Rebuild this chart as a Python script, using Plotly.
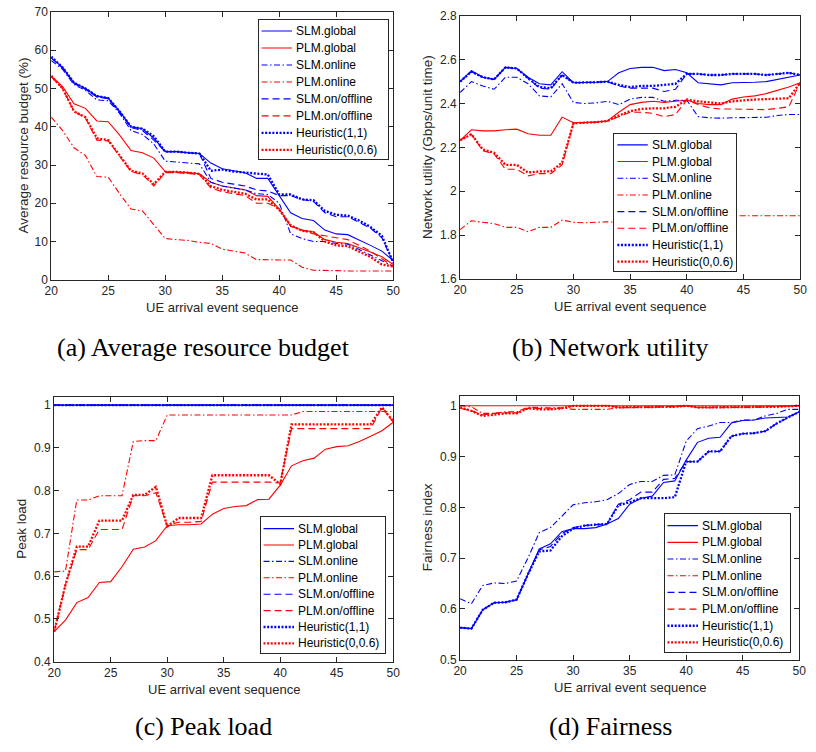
import plotly.graph_objects as go

# UE arrival events on the x axis
events = list(range(20, 51))

series_names = ["SLM.global", "PLM.global", "SLM.online", "PLM.online",
                "SLM.on/offline", "PLM.on/offline", "Heuristic(1,1)", "Heuristic(0,0.6)"]

# (a) Average resource budget (%)
budget_slm_global = [58.0, 55.5, 51.5, 50.0, 48.0, 47.5, 44.0, 40.0, 39.5, 37.0, 33.5, 33.5, 33.2, 33.0, 30.5, 29.0,
                     28.5, 28.0, 26.5, 26.5, 22.0, 17.5, 16.0, 15.5, 13.0, 12.0, 11.8, 10.5, 9.0, 7.5, 5.0]
budget_plm_global = [53.2, 50.5, 46.0, 44.8, 41.5, 41.3, 37.8, 33.8, 33.2, 31.8, 28.3, 28.2, 28.0, 27.7, 25.5, 24.5,
                     24.0, 23.5, 22.0, 21.8, 18.5, 14.0, 13.0, 12.5, 10.5, 9.8, 9.5, 8.5, 7.3, 6.0, 4.0]
budget_slm_online = [57.3, 55.0, 51.0, 49.5, 47.0, 46.8, 43.5, 39.0, 38.0, 35.5, 31.0, 30.8, 30.5, 30.3, 25.5, 24.5,
                     24.0, 23.5, 22.5, 22.3, 20.0, 12.0, 10.8, 10.0, 10.0, 9.5, 9.3, 8.0, 6.5, 5.0, 3.5]
budget_plm_online = [42.5, 39.0, 34.5, 32.5, 27.0, 26.8, 22.5, 18.5, 18.0, 14.5, 10.8, 10.5, 10.3, 9.8, 9.5, 8.0,
                     7.5, 7.0, 5.3, 5.2, 5.2, 5.2, 3.3, 2.5, 2.5, 2.4, 2.3, 2.3, 2.3, 2.3, 2.3]
budget_slm_onoff = [58.0, 55.3, 51.3, 49.8, 47.8, 47.3, 43.8, 39.8, 39.0, 36.5, 33.5, 33.5, 33.2, 33.0, 26.5, 25.5,
                    25.0, 24.5, 23.5, 23.2, 22.0, 22.0, 21.0, 20.5, 17.5, 16.5, 16.5, 15.0, 13.5, 11.0, 4.5]
budget_plm_onoff = [53.0, 50.0, 44.0, 42.3, 36.5, 36.3, 32.3, 28.3, 27.5, 24.5, 28.0, 28.0, 27.8, 27.5, 24.0, 23.0,
                    22.5, 22.0, 20.0, 20.0, 18.5, 14.0, 13.0, 12.0, 11.5, 11.0, 10.5, 9.0, 7.5, 5.5, 3.5]
budget_heur_11 = [58.3, 55.5, 51.5, 50.0, 48.0, 47.5, 44.0, 40.0, 39.5, 37.5, 33.5, 33.5, 33.2, 33.0, 28.5, 28.8,
                  28.3, 28.0, 27.7, 27.5, 22.3, 22.3, 21.0, 20.8, 18.0, 17.0, 16.8, 15.5, 13.8, 11.5, 4.5]
budget_heur_006 = [53.3, 50.0, 44.0, 42.5, 37.0, 36.5, 32.5, 28.5, 27.8, 25.0, 28.2, 28.2, 28.0, 27.7, 24.5, 23.5,
                   23.0, 22.5, 21.0, 21.0, 18.3, 14.3, 12.8, 12.5, 10.0, 9.0, 8.8, 7.5, 6.0, 4.0, 3.5]

# (b) Network utility (Gbps/unit time)
util_slm_global = [2.50, 2.55, 2.52, 2.51, 2.565, 2.56, 2.52, 2.49, 2.485, 2.545, 2.495, 2.495, 2.497, 2.50, 2.54,
                   2.56, 2.565, 2.565, 2.55, 2.555, 2.54, 2.495, 2.49, 2.485, 2.495, 2.495, 2.497, 2.50, 2.51, 2.52, 2.53]
util_plm_global = [2.232, 2.28, 2.275, 2.275, 2.28, 2.283, 2.262, 2.255, 2.255, 2.338, 2.312, 2.312, 2.315, 2.32, 2.36,
                   2.395, 2.405, 2.41, 2.405, 2.41, 2.415, 2.40, 2.395, 2.395, 2.42, 2.43, 2.435, 2.445, 2.46, 2.475, 2.495]
util_slm_online = [2.45, 2.50, 2.48, 2.465, 2.52, 2.52, 2.49, 2.435, 2.43, 2.49, 2.405, 2.40, 2.403, 2.41, 2.395,
                   2.42, 2.428, 2.428, 2.41, 2.415, 2.415, 2.34, 2.335, 2.333, 2.335, 2.335, 2.335, 2.337, 2.345, 2.35, 2.35]
util_plm_online = [1.825, 1.865, 1.858, 1.852, 1.835, 1.835, 1.815, 1.835, 1.835, 1.868, 1.858, 1.856, 1.858, 1.86,
                   1.858, 1.865, 1.87, 1.872, 1.875, 1.875, 1.88, 1.885, 1.887, 1.888, 1.888, 1.888, 1.888, 1.888,
                   1.888, 1.888, 1.888]
util_slm_onoff = [2.50, 2.545, 2.52, 2.51, 2.565, 2.56, 2.515, 2.47, 2.465, 2.53, 2.495, 2.495, 2.497, 2.50, 2.48,
                  2.47, 2.47, 2.47, 2.455, 2.465, 2.535, 2.535, 2.53, 2.53, 2.535, 2.535, 2.535, 2.53, 2.535, 2.54, 2.53]
util_plm_onoff = [2.232, 2.26, 2.185, 2.17, 2.10, 2.10, 2.07, 2.08, 2.08, 2.12, 2.31, 2.312, 2.315, 2.32, 2.34,
                  2.36, 2.36, 2.355, 2.34, 2.35, 2.415, 2.395, 2.38, 2.375, 2.375, 2.375, 2.372, 2.372, 2.378, 2.385, 2.495]
util_heur_11 = [2.50, 2.545, 2.52, 2.51, 2.565, 2.56, 2.515, 2.475, 2.47, 2.53, 2.495, 2.495, 2.497, 2.50, 2.485,
                2.475, 2.48, 2.48, 2.485, 2.49, 2.535, 2.535, 2.53, 2.53, 2.535, 2.535, 2.535, 2.53, 2.535, 2.54, 2.53]
util_heur_006 = [2.232, 2.26, 2.19, 2.175, 2.12, 2.12, 2.085, 2.09, 2.09, 2.13, 2.31, 2.312, 2.315, 2.32, 2.345,
                 2.365, 2.375, 2.378, 2.378, 2.385, 2.418, 2.41, 2.405, 2.40, 2.41, 2.415, 2.418, 2.42, 2.422, 2.424, 2.495]

# (c) Peak load
peak_slm_global = [1.0, 1.0, 1.0, 1.0, 1.0, 1.0, 1.0, 1.0, 1.0, 1.0, 1.0, 1.0, 1.0, 1.0, 1.0, 1.0,
                   1.0, 1.0, 1.0, 1.0, 1.0, 1.0, 1.0, 1.0, 1.0, 1.0, 1.0, 1.0, 1.0, 1.0, 1.0]
peak_plm_global = [0.47, 0.497, 0.538, 0.55, 0.585, 0.587, 0.622, 0.663, 0.668, 0.683, 0.718, 0.72, 0.72, 0.722,
                   0.745, 0.758, 0.763, 0.765, 0.779, 0.78, 0.813, 0.858, 0.87, 0.876, 0.897, 0.903, 0.905, 0.915,
                   0.927, 0.94, 0.96]
peak_slm_online = [1.0, 1.0, 1.0, 1.0, 1.0, 1.0, 1.0, 1.0, 1.0, 1.0, 1.0, 1.0, 1.0, 1.0, 1.0, 1.0,
                   1.0, 1.0, 1.0, 1.0, 1.0, 1.0, 1.0, 1.0, 1.0, 1.0, 1.0, 1.0, 1.0, 1.0, 1.0]
peak_plm_online = [0.61, 0.612, 0.778, 0.778, 0.788, 0.788, 0.788, 0.915, 0.917, 0.917, 0.977, 0.977, 0.977, 0.977,
                   0.977, 0.977, 0.977, 0.977, 0.977, 0.977, 0.977, 0.977, 0.985, 0.985, 0.985, 0.985, 0.985, 0.985,
                   0.985, 0.985, 0.985]
peak_slm_onoff = [1.0, 1.0, 1.0, 1.0, 1.0, 1.0, 1.0, 1.0, 1.0, 1.0, 1.0, 1.0, 1.0, 1.0, 1.0, 1.0,
                  1.0, 1.0, 1.0, 1.0, 1.0, 1.0, 1.0, 1.0, 1.0, 1.0, 1.0, 1.0, 1.0, 1.0, 1.0]
peak_plm_onoff = [0.47, 0.58, 0.662, 0.662, 0.709, 0.709, 0.709, 0.788, 0.788, 0.795, 0.718, 0.726, 0.726, 0.728,
                  0.82, 0.82, 0.82, 0.82, 0.82, 0.82, 0.818, 0.945, 0.945, 0.945, 0.945, 0.945, 0.945, 0.945,
                  0.945, 0.995, 0.96]
peak_heur_11 = [1.0, 1.0, 1.0, 1.0, 1.0, 1.0, 1.0, 1.0, 1.0, 1.0, 1.0, 1.0, 1.0, 1.0, 1.0, 1.0,
                1.0, 1.0, 1.0, 1.0, 1.0, 1.0, 1.0, 1.0, 1.0, 1.0, 1.0, 1.0, 1.0, 1.0, 1.0]
peak_heur_006 = [0.47, 0.58, 0.669, 0.669, 0.73, 0.73, 0.73, 0.79, 0.79, 0.809, 0.716, 0.736, 0.736, 0.736,
                 0.836, 0.836, 0.836, 0.836, 0.836, 0.836, 0.815, 0.955, 0.955, 0.955, 0.955, 0.955, 0.955, 0.955,
                 0.955, 0.995, 0.962]

# (d) Fairness index
fair_slm_global = [0.563, 0.561, 0.598, 0.612, 0.613, 0.618, 0.668, 0.718, 0.728, 0.752, 0.758, 0.758, 0.76, 0.767,
                   0.778, 0.806, 0.818, 0.822, 0.849, 0.852, 0.893, 0.928, 0.936, 0.938, 0.966, 0.971, 0.972, 0.976,
                   0.977, 0.978, 0.988]
fair_plm_global = [1.0, 1.0, 1.0, 1.0, 1.0, 1.0, 1.0, 1.0, 1.0, 1.0, 1.0, 1.0, 1.0, 1.0, 1.0, 1.0,
                   1.0, 1.0, 1.0, 1.0, 1.0, 1.0, 1.0, 1.0, 1.0, 1.0, 1.0, 1.0, 1.0, 1.0, 1.0]
fair_slm_online = [0.62, 0.61, 0.646, 0.651, 0.65, 0.655, 0.70, 0.75, 0.76, 0.782, 0.805, 0.809, 0.811, 0.815,
                   0.827, 0.845, 0.851, 0.851, 0.863, 0.864, 0.93, 0.955, 0.96, 0.967, 0.967, 0.972, 0.972, 0.98,
                   0.985, 0.993, 0.993]
fair_plm_online = [1.0, 0.998, 0.985, 0.985, 0.988, 0.988, 0.997, 0.996, 0.996, 0.996, 0.993, 0.993, 0.993, 0.993,
                   0.996, 0.996, 0.996, 0.997, 0.998, 0.998, 1.0, 0.996, 0.996, 0.996, 0.996, 0.996, 0.997, 0.998,
                   0.999, 1.0, 1.0]
fair_slm_onoff = [0.563, 0.561, 0.598, 0.612, 0.613, 0.618, 0.668, 0.716, 0.723, 0.748, 0.76, 0.764, 0.766, 0.767,
                  0.806, 0.815, 0.83, 0.83, 0.855, 0.857, 0.89, 0.89, 0.91, 0.91, 0.94, 0.945, 0.946, 0.95,
                  0.965, 0.977, 0.988]
fair_plm_onoff = [0.995, 0.99, 0.982, 0.985, 0.986, 0.986, 0.995, 0.994, 0.994, 0.995, 1.0, 1.0, 1.0, 1.0,
                  0.997, 0.997, 0.997, 0.998, 0.998, 0.999, 1.0, 0.997, 0.997, 0.997, 0.997, 0.997, 0.998, 0.998,
                  0.999, 1.0, 1.0]
fair_heur_11 = [0.563, 0.561, 0.598, 0.612, 0.613, 0.618, 0.668, 0.713, 0.715, 0.743, 0.758, 0.764, 0.766, 0.767,
                0.804, 0.81, 0.818, 0.818, 0.818, 0.82, 0.89, 0.89, 0.91, 0.91, 0.94, 0.945, 0.946, 0.95,
                0.965, 0.977, 0.988]
fair_heur_006 = [0.997, 0.99, 0.98, 0.983, 0.985, 0.985, 0.995, 0.993, 0.993, 0.995, 1.0, 1.0, 1.0, 1.0,
                 0.997, 0.997, 0.997, 0.997, 0.997, 0.998, 1.0, 0.997, 0.997, 0.997, 0.997, 0.997, 0.997, 0.998,
                 0.998, 0.999, 1.0]

# line look for each of the eight methods (same order as series_names)
BLUE, RED = "#0000FF", "#FF0000"
DASHDOT = "6px,2.5px,1.5px,2.5px"
DASH = "7px,4px"
DOT = "2px,1.6px"
styles = [
    dict(color=BLUE, width=1.1, dash="solid"),
    dict(color=RED, width=1.1, dash="solid"),
    dict(color=BLUE, width=1.1, dash=DASHDOT),
    dict(color=RED, width=1.1, dash=DASHDOT),
    dict(color=BLUE, width=1.1, dash=DASH),
    dict(color=RED, width=1.1, dash=DASH),
    dict(color=BLUE, width=2.3, dash=DOT),
    dict(color=RED, width=2.3, dash=DOT),
]

# each panel: data, y scale, pixel frame (left, right / top, bottom) and key box (left, top, right, bottom)
panels = [
    dict(series=[budget_slm_global, budget_plm_global, budget_slm_online, budget_plm_online,
                 budget_slm_onoff, budget_plm_onoff, budget_heur_11, budget_heur_006],
         yrange=[0, 70], dtick=10, ytitle="Average resource budget (%)",
         xdom=[45, 393], ydom=[5, 278], keybox=(256, 13, 388, 155),
         caption="(a) Average resource budget", ytitle_x=17),
    dict(series=[util_slm_global, util_plm_global, util_slm_online, util_plm_online,
                 util_slm_onoff, util_plm_onoff, util_heur_11, util_heur_006],
         yrange=[1.6, 2.8], dtick=0.2, ytitle="Network utility (Gbps/unit time)",
         xdom=[461, 807], ydom=[9, 277], keybox=(618, 129, 742, 269),
         caption="(b) Network utility", ytitle_x=428),
    dict(series=[peak_slm_global, peak_plm_global, peak_slm_online, peak_plm_online,
                 peak_slm_onoff, peak_plm_onoff, peak_heur_11, peak_heur_006],
         yrange=[0.4, 1.02], dtick=0.1, ytitle="Peak load",
         xdom=[48, 393], ydom=[397, 667], keybox=(258, 520, 385, 658),
         caption="(c) Peak load", ytitle_x=14),
    dict(series=[fair_slm_global, fair_plm_global, fair_slm_online, fair_plm_online,
                 fair_slm_onoff, fair_plm_onoff, fair_heur_11, fair_heur_006],
         yrange=[0.5, 1.02], dtick=0.1, ytitle="Fairness index",
         xdom=[461, 806], ydom=[396, 665], keybox=(669, 517, 797, 657),
         caption="(d) Fairness", ytitle_x=428),
]

W, H = 816, 752
AXIS_COLOR = "#262626"
SANS = "Liberation Sans, Arial, sans-serif"
SERIF = "Liberation Serif, Times New Roman, serif"


def px_x(v):
    return v / W


def px_y(v):
    return 1 - v / H


fig = go.Figure()
layout = dict(
    width=W, height=H,
    margin=dict(l=0, r=0, t=0, b=0),
    paper_bgcolor="white", plot_bgcolor="white",
    font=dict(family=SANS, size=12, color=AXIS_COLOR),
    showlegend=False,
    annotations=[],
)

# data panels
for i, p in enumerate(panels):
    k = "" if i == 0 else str(i + 1)
    for name, vals, st in zip(series_names, p["series"], styles):
        fig.add_trace(go.Scatter(
            x=events, y=vals, name=name, mode="lines",
            line=dict(color=st["color"], width=st["width"], dash=st["dash"]),
            xaxis="x" + k, yaxis="y" + k,
        ))

    x0, x1 = p["xdom"]
    top, bottom = p["ydom"]
    common = dict(showline=True, linecolor=AXIS_COLOR, linewidth=1, mirror="allticks",
                  ticks="inside", ticklen=5, tickcolor=AXIS_COLOR, showgrid=False,
                  zeroline=False, tickfont=dict(family=SANS, size=12, color=AXIS_COLOR))
    layout["xaxis" + k] = dict(domain=[px_x(x0), px_x(x1)], anchor="y" + k,
                               range=[20, 50], tick0=20, dtick=5, **common)
    layout["yaxis" + k] = dict(domain=[px_y(bottom), px_y(top)], anchor="x" + k,
                               range=p["yrange"], tick0=p["yrange"][0], dtick=p["dtick"], **common)

    layout["annotations"].append(dict(
        text="UE arrival event sequence", xref="paper", yref="paper",
        x=px_x((x0 + x1) / 2), y=px_y(bottom + 28), xanchor="center", yanchor="middle",
        showarrow=False, font=dict(family=SANS, size=13, color=AXIS_COLOR)))
    layout["annotations"].append(dict(
        text=p["ytitle"], xref="paper", yref="paper", textangle=-90,
        x=px_x(p["ytitle_x"]), y=px_y((top + bottom) / 2), xanchor="center", yanchor="middle",
        showarrow=False, font=dict(family=SANS, size=13.5, color=AXIS_COLOR)))
    cap_x = 200 if i % 2 == 0 else 614
    cap_y = 347 if i < 2 else 733
    layout["annotations"].append(dict(
        text=p["caption"], xref="paper", yref="paper",
        x=px_x(cap_x), y=px_y(cap_y), xanchor="center", yanchor="middle", showarrow=False,
        font=dict(family=SERIF, size=26, color="black")))

# keys: a small framed axis per panel, measured in pixels from its top-left corner
for i, p in enumerate(panels):
    k = str(5 + i)
    bl, bt, br, bb = p["keybox"]
    w, h = br - bl, bb - bt
    fig.add_trace(go.Scatter(
        x=[0, w, w, 0, 0], y=[0, 0, h, h, 0], mode="lines", fill="toself",
        fillcolor="white", line=dict(width=0, color="white"), hoverinfo="skip",
        xaxis="x" + k, yaxis="y" + k))
    step = (h - 21) / 7.0
    for j, (name, st) in enumerate(zip(series_names, styles)):
        yc = 11.5 + j * step
        fig.add_trace(go.Scatter(
            x=[3, 34], y=[yc, yc], mode="lines", hoverinfo="skip",
            line=dict(color=st["color"], width=st["width"], dash=st["dash"]),
            xaxis="x" + k, yaxis="y" + k))
        layout["annotations"].append(dict(
            text=name, xref="x" + k, yref="y" + k, x=36, y=yc,
            xanchor="left", yanchor="middle", showarrow=False,
            font=dict(family=SANS, size=12, color="black")))
    frame = dict(showline=True, linecolor=AXIS_COLOR, linewidth=1, mirror=True, ticks="",
                 showticklabels=False, showgrid=False, zeroline=False, fixedrange=True)
    layout["xaxis" + k] = dict(domain=[px_x(bl), px_x(br)], anchor="y" + k, range=[0, w], **frame)
    layout["yaxis" + k] = dict(domain=[px_y(bb), px_y(bt)], anchor="x" + k, range=[h, 0], **frame)

fig.update_layout(**layout)
fig.write_html("out.html")
